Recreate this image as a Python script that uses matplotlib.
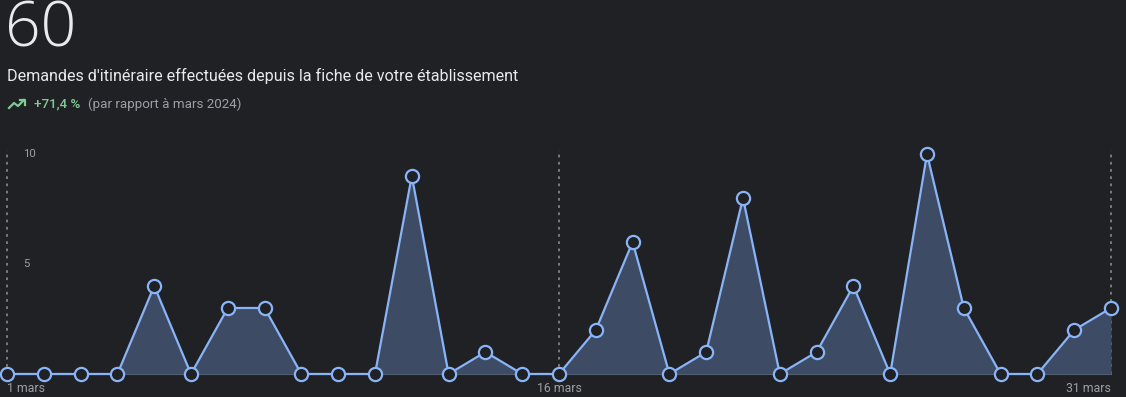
import numpy as np
import matplotlib.pyplot as plt
from matplotlib.lines import Line2D

# Daily values, March
days = list(range(1, 32))
values = [0, 0, 0, 0, 4, 0, 3, 3, 0, 0, 0, 9, 0, 1, 0,
          0, 2, 6, 0, 1, 8, 0, 1, 4, 0, 10, 3, 0, 0, 2, 3]
y_ticks = [5, 10]
x_tick_days = [1, 16, 31]
x_tick_labels = ["1 mars", "16 mars", "31 mars"]

total = "60"
subtitle = "Demandes d'itinéraire effectuées depuis la fiche de votre établissement"
change = "+71,4 %"
compare = "(par rapport à mars 2024)"

bg = "#202124"
line_col = "#8ab4f8"
fill_col = "#3d4b64"
grey = "#9aa0a6"

plt.rcParams['font.family'] = ['Roboto', 'DejaVu Sans']

fig = plt.figure(figsize=(11.26, 3.97), dpi=100, facecolor=bg)
W, H = 1126, 397

# chart axes: day1 at px 7, day31 at px 1111; 0 at px 374, 10 at px 154
px_day = (1111 - 7) / 30
px_unit = (374 - 154) / 10
ax_top, ax_bot = 140, 374
ax = fig.add_axes([0, (H - ax_bot) / H, 1, (ax_bot - ax_top) / H])
ax.set_facecolor(bg)
ax.set_xlim(1 - 7 / px_day, 31 + (W - 1111) / px_day)
ax.set_ylim(0, (ax_bot - ax_top) / px_unit)
ax.axis('off')

for d in x_tick_days:
    ax.plot([d, d], [0, 10.2], color="#7f8388", lw=1.3, ls=(0, (1.5, 2.5)), zorder=1)

ax.plot([days[0], days[-1]], [0, 0], color="#6b6f75", lw=1.5, zorder=2, clip_on=False)
ax.fill_between(days, values, 0, color=fill_col, zorder=2, lw=0)
ax.plot(days, values, color=line_col, lw=1.6, marker='o', markersize=9.5,
        markerfacecolor=bg, markeredgecolor=line_col, markeredgewidth=1.6,
        zorder=3, clip_on=False)

for t in y_ticks:
    ax.text(1 + 16 / px_day, t, str(t), color=grey, fontsize=8.2,
            ha='left', va='center')

# overlay in pixel coords for header and x labels
ov = fig.add_axes([0, 0, 1, 1], facecolor='none')
ov.set_xlim(0, W)
ov.set_ylim(H, 0)
ov.axis('off')

ov.text(5, 30, total, color="#e8eaed", fontsize=45, fontfamily=['Open Sans', 'DejaVu Sans'],
        fontweight='light', ha='left', va='center')
ov.text(7, 76, subtitle, color="#e8eaed", fontsize=11.6, ha='left', va='center')
ov.text(34, 104, change, color="#81c995", fontsize=9.6, fontweight='medium',
        ha='left', va='center')
ov.text(88, 104, compare, color=grey, fontsize=9.6, ha='left', va='center')

# trending-up icon
ov.add_line(Line2D([9, 14, 18, 24], [108, 103, 106, 100], color="#81c995", lw=1.6))
ov.add_line(Line2D([19.5, 24.5, 24.5], [100, 100, 105], color="#81c995", lw=1.6))

aligns = ['left', 'center', 'right']
for d, lab, ha in zip(x_tick_days, x_tick_labels, aligns):
    x_px = 7 + (d - 1) * px_day
    ov.text(x_px, 389, lab, color=grey, fontsize=8.8, ha=ha, va='center')

fig.savefig("out.png", dpi=100, facecolor=bg)
